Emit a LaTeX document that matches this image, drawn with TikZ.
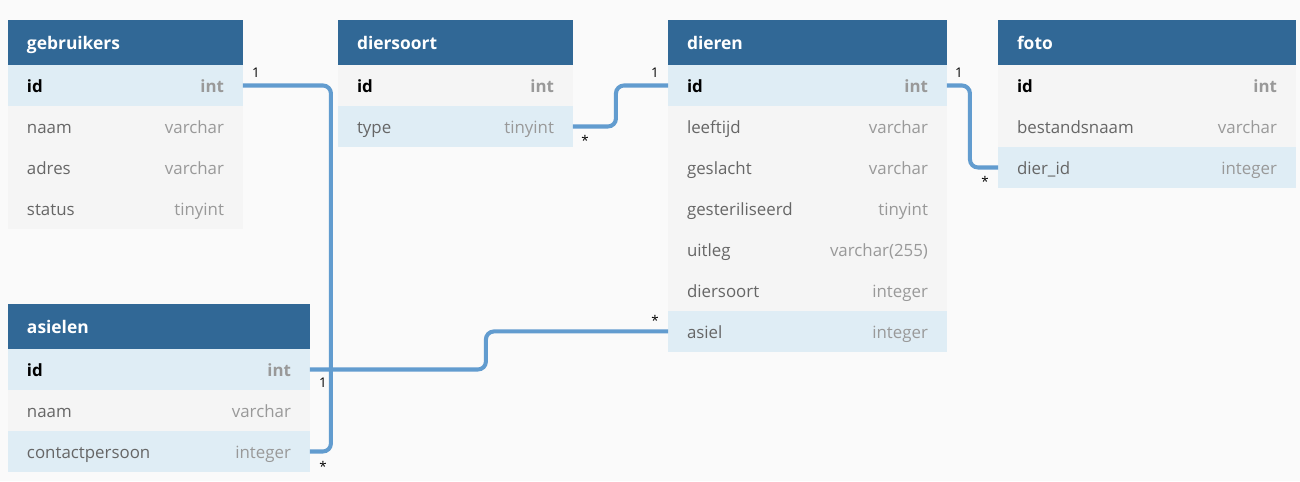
\documentclass[tikz,border=0pt]{standalone}
\usepackage{fontspec}
\setmainfont{Open Sans}
\usetikzlibrary{positioning}

\definecolor{bgc}{HTML}{FAFAFA}
\definecolor{headblue}{HTML}{316896}
\definecolor{rowgray}{HTML}{F5F5F5}
\definecolor{hlblue}{HTML}{DFEDF5}
\definecolor{namegray}{HTML}{666666}
\definecolor{typegray}{HTML}{999999}
\definecolor{relblue}{HTML}{629CCF}

\newcommand\typ[1]{\hspace{0pt plus 1filll}\textcolor{typegray}{#1}}
\newcommand\keyname[1]{\textcolor{black}{\textbf{#1}}}

\tikzset{
  head/.style={fill=headblue, text=white, font=\bfseries\fontsize{9.9}{11}\selectfont,
    anchor=north west, inner xsep=0.38cm, inner ysep=0pt, minimum height=0.9cm,
    outer sep=0pt, text width=#1, text height=0.92em, text depth=0.08em},
  row/.style={fill=rowgray, text=namegray, font=\fontsize{9.6}{11}\selectfont,
    inner xsep=0.38cm, inner ysep=0pt, minimum height=0.82cm,
    outer sep=0pt, text width=#1, text height=0.92em, text depth=0.08em},
  hlrow/.style={row=#1, fill=hlblue},
  rel/.style={draw=relblue, line width=2.3pt, rounded corners=0.16cm},
  card/.style={font=\fontsize{7.6}{8}\selectfont, inner sep=0pt, text=black}
}

\begin{document}
\begin{tikzpicture}[x=0.02cm, y=-0.02cm]
\fill[bgc] (0,0) rectangle (1300,481);

% gebruikers
\node[head=3.94cm] (geb) at (8,20) {gebruikers};
\node[hlrow=3.94cm, below=0pt of geb] (geb-id) {\keyname{id}\typ{\textbf{int}}};
\node[row=3.94cm, below=0pt of geb-id] (geb-naam) {naam\typ{varchar}};
\node[row=3.94cm, below=0pt of geb-naam] (geb-adres) {adres\typ{varchar}};
\node[row=3.94cm, below=0pt of geb-adres] (geb-status) {status\typ{tinyint}};

% diersoort
\node[head=3.94cm] (ds) at (338,20) {diersoort};
\node[row=3.94cm, below=0pt of ds] (ds-id) {\keyname{id}\typ{\textbf{int}}};
\node[hlrow=3.94cm, below=0pt of ds-id] (ds-type) {type\typ{tinyint}};

% dieren
\node[head=4.82cm] (die) at (668,20) {dieren};
\node[hlrow=4.82cm, below=0pt of die] (die-id) {\keyname{id}\typ{\textbf{int}}};
\node[row=4.82cm, below=0pt of die-id] (die-lt) {leeftijd\typ{varchar}};
\node[row=4.82cm, below=0pt of die-lt] (die-gs) {geslacht\typ{varchar}};
\node[row=4.82cm, below=0pt of die-gs] (die-ster) {gesteriliseerd\typ{tinyint}};
\node[row=4.82cm, below=0pt of die-ster] (die-uit) {uitleg\typ{varchar(255)}};
\node[row=4.82cm, below=0pt of die-uit] (die-ds) {diersoort\typ{integer}};
\node[hlrow=4.82cm, below=0pt of die-ds] (die-asiel) {asiel\typ{integer}};

% foto
\node[head=5.2cm] (foto) at (998,20) {foto};
\node[row=5.2cm, below=0pt of foto] (foto-id) {\keyname{id}\typ{\textbf{int}}};
\node[row=5.2cm, below=0pt of foto-id] (foto-bn) {bestandsnaam\typ{varchar}};
\node[hlrow=5.2cm, below=0pt of foto-bn] (foto-did) {dier\_id\typ{integer}};

% asielen
\node[head=5.28cm] (asi) at (8,304) {asielen};
\node[hlrow=5.28cm, below=0pt of asi] (asi-id) {\keyname{id}\typ{\textbf{int}}};
\node[row=5.28cm, below=0pt of asi-id] (asi-naam) {naam\typ{varchar}};
\node[hlrow=5.28cm, below=0pt of asi-naam] (asi-cp) {contactpersoon\typ{integer}};

% relaties
\draw[rel] (geb-id.east) -- ([xshift=1.76cm]geb-id.east) |- (asi-cp.east);
\draw[rel] (ds-type.east) -- ([xshift=0.86cm]ds-type.east) |- (die-id.west);
\draw[rel] (die-id.east) -- ([xshift=0.46cm]die-id.east) |- (foto-did.west);
\draw[rel] (asi-id.east) -- ([xshift=3.52cm]asi-id.east) |- (die-asiel.west);

\node[card] (c-geb) at ([shift={(13,-13)}]geb-id.east) {1};
\node[card] (c-cp) at ([shift={(13,14.5)}]asi-cp.east) {*};
\node[card] (c-type) at ([shift={(12,14)}]ds-type.east) {*};
\node[card] (c-dsid) at ([shift={(-13,-13)}]die-id.west) {1};
\node[card] (c-dieid) at ([shift={(12,-13)}]die-id.east) {1};
\node[card] (c-did) at ([shift={(-13,14)}]foto-did.west) {*};
\node[card] (c-asid) at ([shift={(13,13)}]asi-id.east) {1};
\node[card] (c-asiel) at ([shift={(-13,-11.5)}]die-asiel.west) {*};

\end{tikzpicture}
\end{document}
